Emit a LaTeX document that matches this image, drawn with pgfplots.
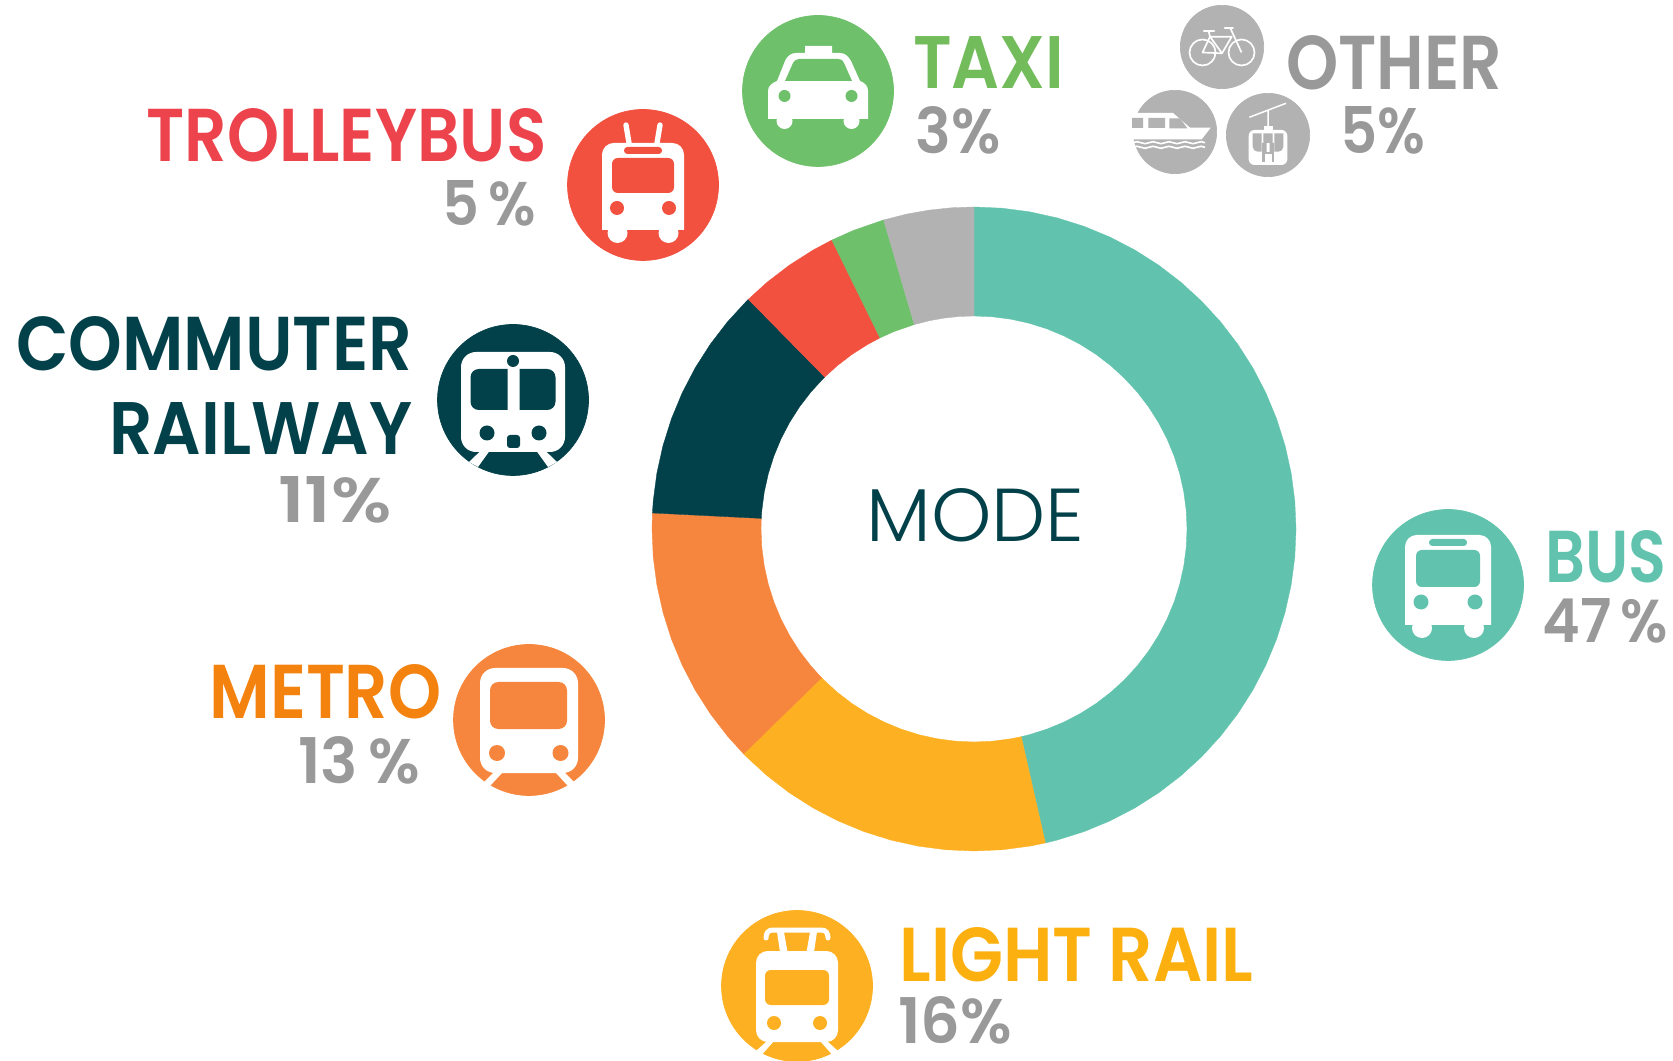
\documentclass[border=0pt]{standalone}
\usepackage{pgfplots}
\pgfplotsset{compat=1.18}
\usepackage{graphicx}
\usepackage{fontspec}
\setmainfont{Poppins}
\newfontfamily\labfont{Poppins SemiBold}
\newfontfamily\modefont{Poppins Light}

\definecolor{busc}{HTML}{61C3AD}
\definecolor{lrc}{HTML}{FDB022}
\definecolor{metroc}{HTML}{F6863D}
\definecolor{railc}{HTML}{024149}
\definecolor{trolc}{HTML}{F25140}
\definecolor{taxic}{HTML}{6EC06B}
\definecolor{otherc}{HTML}{B2B2B2}
\definecolor{lrtext}{HTML}{FBB00F}
\definecolor{metrotext}{HTML}{F3820F}
\definecolor{troltext}{HTML}{EC434C}
\definecolor{taxitext}{HTML}{73BC5B}
\definecolor{greytext}{HTML}{999999}

\newlength\pxu
\setlength\pxu{0.6pt}
% #1 left, #2 bottom, #3 width, #4 height (pixels), #5 colour, #6 font, #7 text
\newcommand\lab[7]{\node[anchor=south west,inner sep=0pt,text=#5,xshift=-1.8pt] at (#1,#2)
  {\resizebox{\dimexpr#3\pxu+3.6pt\relax}{#4\pxu}{\fontsize{40}{40}#6\selectfont #7}};}

\begin{document}
\begin{tikzpicture}
\path[use as bounding box] (0,0) rectangle (1003.8pt,636.6pt);
\begin{axis}[
    at={(0pt,0pt)},anchor=south west,
    x=0.6pt,y=0.6pt,
    xmin=-974,xmax=699,ymin=-532,ymax=529,
    hide axis,clip=false,
    ring/.style={data cs=polar,no markers,fill=#1,draw=#1,line width=0.2pt},
]
% ring, angles, one series for each mode (angle, radius)
\addplot[ring=busc] coordinates {
 (90,322)(85,322)(80,322)(75,322)(70,322)(65,322)(60,322)(55,322)(50,322)(45,322)(40,322)(35,322)(30,322)(25,322)(20,322)(15,322)(10,322)(5,322)(0,322)
 (-5,322)(-10,322)(-15,322)(-20,322)(-25,322)(-30,322)(-35,322)(-40,322)(-45,322)(-50,322)(-55,322)(-60,322)(-65,322)(-70,322)(-75,322)(-77.2,322)
 (-77.2,213)(-75,213)(-70,213)(-65,213)(-60,213)(-55,213)(-50,213)(-45,213)(-40,213)(-35,213)(-30,213)(-25,213)(-20,213)(-15,213)(-10,213)(-5,213)
 (0,213)(5,213)(10,213)(15,213)(20,213)(25,213)(30,213)(35,213)(40,213)(45,213)(50,213)(55,213)(60,213)(65,213)(70,213)(75,213)(80,213)(85,213)(90,213)(90,322)};
\addplot[ring=lrc] coordinates {
 (-77.2,322)(-80,322)(-85,322)(-90,322)(-95,322)(-100,322)(-105,322)(-110,322)(-115,322)(-120,322)(-125,322)(-130,322)(-135,322)(-135.7,322)
 (-135.7,213)(-135,213)(-130,213)(-125,213)(-120,213)(-115,213)(-110,213)(-105,213)(-100,213)(-95,213)(-90,213)(-85,213)(-80,213)(-77.2,213)(-77.2,322)};
\addplot[ring=metroc] coordinates {
 (-135.7,322)(-140,322)(-145,322)(-150,322)(-155,322)(-160,322)(-165,322)(-170,322)(-175,322)(-180,322)(-182.85,322)
 (-182.85,213)(-180,213)(-175,213)(-170,213)(-165,213)(-160,213)(-155,213)(-150,213)(-145,213)(-140,213)(-135.7,213)(-135.7,322)};
\addplot[ring=railc] coordinates {
 (-182.85,322)(-185,322)(-190,322)(-195,322)(-200,322)(-205,322)(-210,322)(-215,322)(-220,322)(-225,322)(-225.5,322)
 (-225.5,213)(-225,213)(-220,213)(-215,213)(-210,213)(-205,213)(-200,213)(-195,213)(-190,213)(-185,213)(-182.85,213)(-182.85,322)};
\addplot[ring=trolc] coordinates {
 (-225.5,322)(-230,322)(-235,322)(-240,322)(-243.8,322)
 (-243.8,213)(-240,213)(-235,213)(-230,213)(-225.5,213)(-225.5,322)};
\addplot[ring=taxic] coordinates {
 (-243.8,322)(-248,322)(-253.7,322)
 (-253.7,213)(-248,213)(-243.8,213)(-243.8,322)};
\addplot[ring=otherc] coordinates {
 (-253.7,322)(-258,322)(-262,322)(-266,322)(-270,322)
 (-270,213)(-266,213)(-262,213)(-258,213)(-253.7,213)(-253.7,322)};
% icon discs
\addplot[only marks,mark=*,mark size=45.3pt,color=taxic] coordinates {(-156,438)};
\addplot[only marks,mark=*,mark size=45.3pt,color=trolc] coordinates {(-331,344)};
\addplot[only marks,mark=*,mark size=45.3pt,color=railc] coordinates {(-461,129)};
\addplot[only marks,mark=*,mark size=45.3pt,color=metroc] coordinates {(-445,-191)};
\addplot[only marks,mark=*,mark size=45.3pt,color=lrc] coordinates {(-177,-457)};
\addplot[only marks,mark=*,mark size=45.3pt,color=busc] coordinates {(474,-56)};
\addplot[only marks,mark=*,mark size=25pt,color=otherc] coordinates {(248,482) (201,397) (294,394)};
\end{axis}

% everything below is in reference pixels, y downwards
\begin{scope}[yshift=636.6pt,x=0.6pt,y=-0.6pt]
\lab{149}{162}{394}{53}{troltext}{\labfont}{TROLLEYBUS}
\lab{445}{227}{88}{45}{greytext}{\labfont}{5\,\%}
\lab{19}{371}{390}{54}{railc}{\labfont}{COMMUTER}
\lab{112}{455}{297}{52}{railc}{\labfont}{RAILWAY}
\lab{281}{524}{107}{46}{greytext}{\labfont}{11\%}
\lab{916}{89}{145}{52}{taxitext}{\labfont}{TAXI}
\lab{918}{155}{79}{47}{greytext}{\labfont}{3\%}
\lab{1289}{90}{210}{54}{greytext}{\labfont}{OTHER}
\lab{1343}{155}{79}{47}{greytext}{\labfont}{5\%}
\lab{212}{719}{226}{54}{metrotext}{\labfont}{METRO}
\lab{301}{785}{116}{47}{greytext}{\labfont}{13\,\%}
\lab{902}{982}{348}{54}{lrtext}{\labfont}{LIGHT RAIL}
\lab{901}{1045}{108}{47}{greytext}{\labfont}{16\%}
\lab{1548}{583}{115}{52}{busc}{\labfont}{BUS}
\lab{1545}{644}{120}{44}{greytext}{\labfont}{47\,\%}
\lab{869}{542}{212}{53}{railc}{\modefont}{MODE}

% bus
\begin{scope}[shift={(1448,585)}]
\fill[white] (-43,40) [rounded corners=7pt] -- (-43,-50) -- (43,-50) [sharp corners] -- (43,40) -- cycle;
\fill[white] (-26,43) circle (10) (26,43) circle (10);
\fill[busc,rounded corners=3.5pt] (-32,-35) rectangle (32,2);
\fill[busc,rounded corners=2pt] (-19,-46) rectangle (19,-39);
\fill[busc] (-27,17) circle (7.5) (27,17) circle (7.5);
\end{scope}
% trolleybus
\begin{scope}[shift={(643,185)}]
\fill[white] (-41,45) [rounded corners=7pt] -- (-41,-42) -- (41,-42) [sharp corners] -- (41,45) -- cycle;
\fill[white] (-25.5,48) circle (10) (25.5,48) circle (10);
\draw[white,line width=3.2pt,line cap=round] (-17,-60) -- (-14,-42) (17,-60) -- (14,-42);
\fill[trolc,rounded corners=3.5pt] (-31,-27) rectangle (31,8);
\fill[trolc,rounded corners=2pt] (-19,-38) rectangle (19,-31);
\fill[trolc] (-26,23) circle (7) (26,23) circle (7);
\end{scope}
% taxi
\begin{scope}[shift={(818,91)}]
\fill[white] (-50,28) -- (-50,0) .. controls (-50,-5) and (-46,-8) .. (-41,-10) -- (-33,-30)
  .. controls (-31,-35) and (-27,-38) .. (-22,-38) -- (-13,-38) -- (-13,-45) -- (14,-45) -- (14,-38)
  -- (22,-38) .. controls (27,-38) and (30,-35) .. (33,-30) -- (42,-10) .. controls (47,-8) and (50,-5) .. (50,0)
  -- (50,28) -- cycle;
\fill[white] (-33.5,30) circle (8) (33.5,30) circle (8);
\fill[taxic] (-33,-10) -- (-25,-28) .. controls (-23,-31) and (-21,-32) .. (-19,-32) -- (20,-32)
  .. controls (23,-32) and (25,-31) .. (26,-28) -- (34,-10) -- cycle;
\fill[taxic] (-33.5,5) circle (6) (33.5,5) circle (6);
\end{scope}
% commuter railway
\begin{scope}[shift={(513,400)}]
\fill[white,rounded corners=9pt] (-52,-48) rectangle (52,52);
\fill[white] (-32.6,51) -- (-23.5,51) -- (-35,67) -- (-44,62) -- cycle (32.6,51) -- (23.5,51) -- (35,67) -- (44,62) -- cycle;
\fill[railc] (-5.3,-31) [rounded corners=5pt] -- (-42.5,-31) -- (-42.5,10) [sharp corners] -- (-5.3,10) -- cycle;
\fill[railc] (6.6,-31) [rounded corners=5pt] -- (42.5,-31) -- (42.5,10) [sharp corners] -- (6.6,10) -- cycle;
\fill[railc] (0,-39) circle (6) (-26,33) circle (7.5) (26,33) circle (7.5);
\fill[railc,rounded corners=1.8pt] (-6,35) rectangle (7,48);
\end{scope}
% metro
\begin{scope}[shift={(529,720)}]
\fill[white,rounded corners=9pt] (-49,-52) rectangle (49,53);
\fill[white] (-35,52) -- (-26,52) -- (-39,66) -- (-45,62) -- cycle (35,52) -- (26,52) -- (39,66) -- (45,62) -- cycle;
\fill[metroc,rounded corners=5pt] (-39,-38) rectangle (38,9);
\fill[metroc] (-32,33) circle (8) (31.5,33) circle (8);
\end{scope}
% light rail
\begin{scope}[shift={(797,986)}]
\fill[white,rounded corners=7pt] (-41,-35) rectangle (41,56);
\fill[white] (-30,55) -- (-23,55) -- (-34.5,68) -- (-41,65) -- cycle (30,55) -- (23,55) -- (34.5,68) -- (41,65) -- cycle;
\fill[white] (-20,-54) -- (-13,-54) -- (-9.5,-34) -- (-17,-34) -- cycle (20,-54) -- (13,-54) -- (9.5,-34) -- (17,-34) -- cycle;
\draw[white,line width=3pt,line cap=round] (-31,-48) .. controls (-31,-53) and (-29,-56) .. (-24,-56) -- (24,-56) .. controls (29,-56) and (31,-53) .. (31,-48);
\fill[lrc,rounded corners=3.5pt] (-32,-16) rectangle (32,19);
\fill[lrc] (-23,37) circle (7) (23,37) circle (7);
\end{scope}
% bicycle
\begin{scope}[shift={(1222,47)}]
\draw[white,line width=1pt] (-19.5,5.5) circle (13) (19.5,5.5) circle (13);
\draw[white,line width=1pt,line join=round] (-19.5,5.5) -- (-12,-10.3) -- (9.7,-10.3) -- (0,6.3) -- cycle
  (-12,-10.3) -- (0,6.3) (-13.5,-16.3) -- (-12,-10.3) (8.7,-18) -- (19.5,5.5);
\draw[white,line width=1.4pt,line cap=round] (-18,-16.3) -- (-8,-16.3) (3,-19) -- (10.7,-19);
\end{scope}
% boat
\begin{scope}[shift={(1175,132)}]
\fill[white] (-43,-19) -- (-2,-19) -- (15,-4.3) -- (35.7,-4.3) -- (26.7,7.3) -- (-43,7.3) -- cycle;
\fill[otherc] (-43,-14) rectangle (-32,-4) (-26.7,-14) rectangle (-10,-4);
\fill[otherc] (-5.7,-13.7) -- (5,-13.7) -- (12.3,-3.7) -- (-5.7,-3.7) -- cycle;
\draw[white,line width=1pt] (-42,10.7) sin ++(4,-1) cos ++(4,1) sin ++(4,1) cos ++(4,-1) sin ++(4,-1) cos ++(4,1) sin ++(4,1) cos ++(4,-1)
  sin ++(4,-1) cos ++(4,1) sin ++(4,1) cos ++(4,-1) sin ++(4,-1) cos ++(4,1) sin ++(4,1) cos ++(4,-1) sin ++(4,-1) cos ++(4,1);
\draw[white,line width=1pt] (-42,15.3) sin ++(4,-1) cos ++(4,1) sin ++(4,1) cos ++(4,-1) sin ++(4,-1) cos ++(4,1) sin ++(4,1) cos ++(4,-1)
  sin ++(4,-1) cos ++(4,1) sin ++(4,1) cos ++(4,-1) sin ++(4,-1) cos ++(4,1) sin ++(4,1) cos ++(4,-1) sin ++(4,-1) cos ++(4,1);
\end{scope}
% cable car
\begin{scope}[shift={(1268,135)}]
\draw[white,line width=0.9pt] (-18.7,-17.7) -- (18,-31.7) (0,-24) -- (0,-6);
\fill[white] (-4.5,-8.5) rectangle (4.5,-4);
\fill[white,rounded corners=3.5pt] (-19.3,-5) rectangle (19.3,30);
\fill[otherc] (-15.3,-1.7) [rounded corners=3pt] -- (-15.3,16.7) [sharp corners] -- (-6.3,16.7) -- (-6.3,-1.7) -- cycle;
\fill[otherc] (-4.7,-1.7) rectangle (4.7,8) (-6,8) rectangle (-1.5,17) (1.5,8) rectangle (6,17);
\fill[otherc] (15.3,-1.7) [rounded corners=3pt] -- (15.3,16.7) [sharp corners] -- (6.3,16.7) -- (6.3,-1.7) -- cycle;
\fill[otherc] (-6,17) rectangle (6,27);
\fill[white] (-3.5,19) rectangle (3.5,27);
\end{scope}
\end{scope}
\end{tikzpicture}
\end{document}
